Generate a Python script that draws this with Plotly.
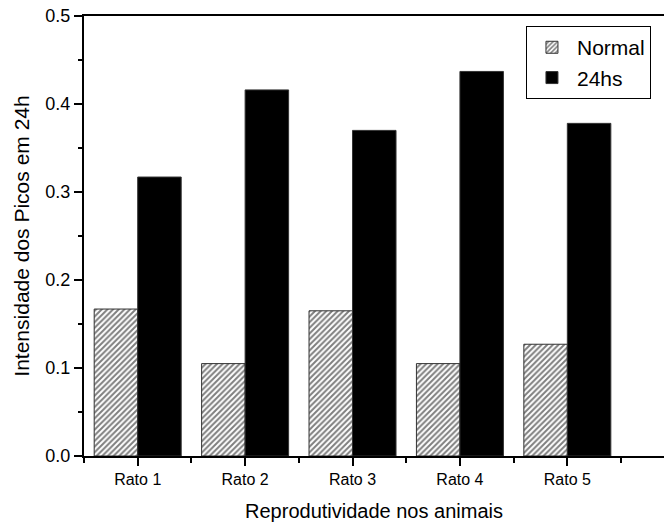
import plotly.graph_objects as go

categories = ["Rato 1", "Rato 2", "Rato 3", "Rato 4", "Rato 5"]
normal = [0.167, 0.105, 0.165, 0.105, 0.127]
h24 = [0.317, 0.416, 0.370, 0.437, 0.378]
positions = [0, 1, 2, 3, 4]
ytick_vals = [0.0, 0.1, 0.2, 0.3, 0.4, 0.5]
ytick_text = ["0.0", "0.1", "0.2", "0.3", "0.4", "0.5"]

font_family = "Liberation Sans, Arial, sans-serif"

fig = go.Figure()
fig.add_trace(go.Bar(
    x=positions, y=normal, name="Normal",
    marker=dict(color="white", line=dict(color="#333333", width=1),
                pattern=dict(shape="/", fgcolor="black", bgcolor="white", size=4, solidity=0.5)),
))
fig.add_trace(go.Bar(
    x=positions, y=h24, name="24hs",
    marker=dict(color="black", line=dict(color="#333333", width=1)),
))

fig.update_layout(
    width=664, height=524,
    margin=dict(l=84, r=0, t=16, b=68),
    paper_bgcolor="white", plot_bgcolor="white",
    barmode="group", bargap=0.19, bargroupgap=0,
    font=dict(family=font_family, color="black", size=16),
    legend=dict(x=0.762, y=0.977, xanchor="left", yanchor="top",
                bordercolor="black", borderwidth=1, bgcolor="white",
                font=dict(size=21), tracegroupgap=0, itemwidth=40),
)
fig.update_xaxes(
    range=[-0.5, 4.9],
    tickvals=positions, ticktext=categories,
    ticks="outside", ticklen=8, tickwidth=1.5, tickcolor="black",
    minor=dict(tickvals=[-0.5, 0.5, 1.5, 2.5, 3.5, 4.5], ticks="outside", ticklen=5, tickwidth=1.5, tickcolor="black"),
    showline=True, linecolor="black", linewidth=2, mirror=True,
    showgrid=False, zeroline=False,
    tickfont=dict(size=16),
    title=dict(text="Reprodutividade nos animais", font=dict(size=20), standoff=17),
)
fig.update_yaxes(
    range=[0, 0.5],
    tickvals=ytick_vals, ticktext=ytick_text, ticklabeloverflow="allow",
    ticks="outside", ticklen=8, tickwidth=1.5, tickcolor="black",
    minor=dict(dtick=0.05, ticks="outside", ticklen=4, tickwidth=1.5, tickcolor="black"),
    showline=True, linecolor="black", linewidth=2, mirror=False,
    showgrid=False, zeroline=False,
    tickfont=dict(size=18),
    title=dict(text="Intensidade dos Picos em 24h", font=dict(size=21), standoff=10),
)

fig.write_html("out.html", config={"displayModeBar": False},
               post_script="document.body.style.margin='0';")
